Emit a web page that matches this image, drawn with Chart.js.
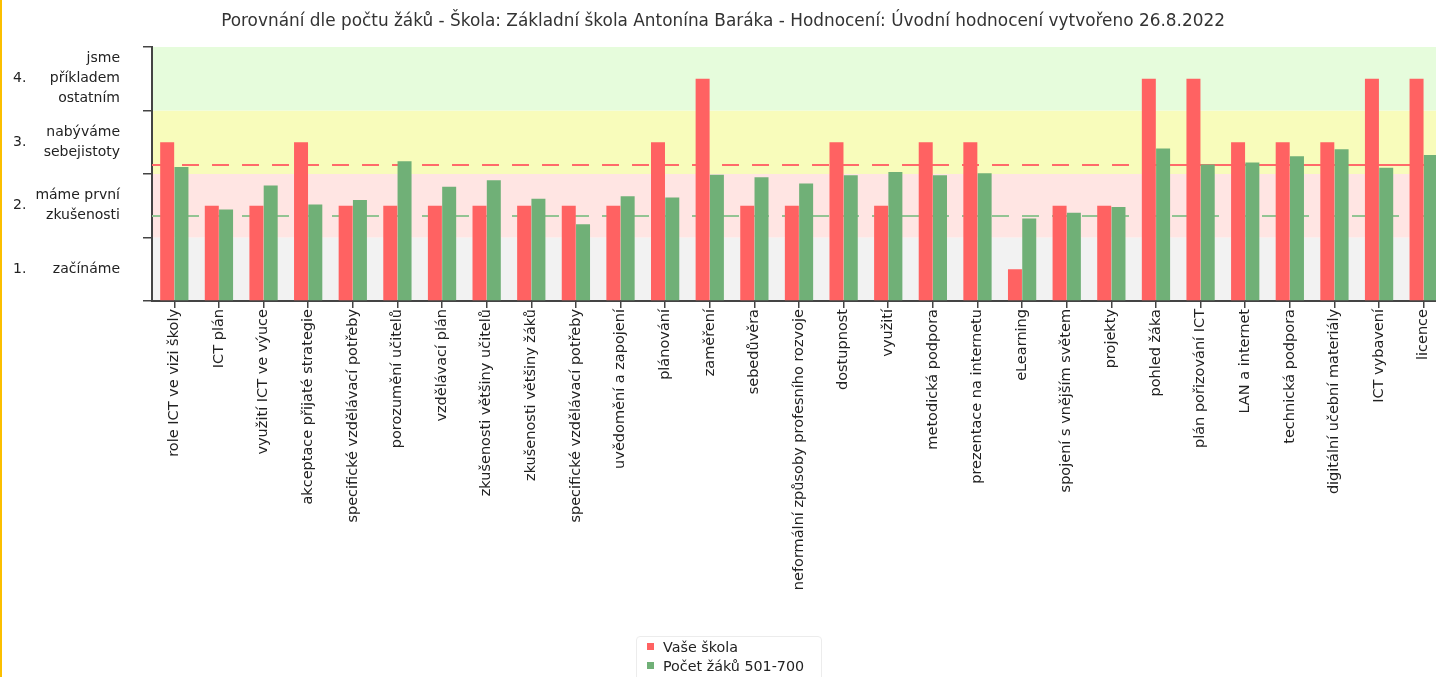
<!DOCTYPE html>
<html>
<head>
<meta charset="utf-8">
<script src="https://cdn.jsdelivr.net/npm/chart.js@4"></script>
<style>
  html, body { margin: 0; padding: 0; background: #fff; overflow: hidden; }
  #wrap { position: absolute; left: 0; top: 0; width: 1446px; height: 677px; }
  #edge { position: absolute; left: 0; top: 0; width: 2px; height: 677px; background: #fbbf00; }
  #legend { position: absolute; left: 636px; top: 636px; width: 184px; height: 56px;
            border: 1px solid #ececec; border-radius: 4px; font: 14.3px "DejaVu Sans", sans-serif; color: #222; }
  .item { position: absolute; left: 10px; height: 18px; line-height: 18px; }
  .item span { display: inline-block; width: 7px; height: 7px; margin-right: 9px; vertical-align: 2px; }
</style>
</head>
<body>
<div id="wrap"><canvas id="chart" width="1446" height="677"></canvas></div>
<div id="edge"></div>
<div id="legend">
  <div class="item" style="top:1px"><span style="background:#ff6262"></span>Vaše škola</div>
  <div class="item" style="top:20px"><span style="background:#70b077"></span>Počet žáků 501-700</div>
</div>
<script>
var categories = [
    'role ICT ve vizi školy', 'ICT plán', 'využití ICT ve výuce', 'akceptace přijaté strategie',
    'specifické vzdělávací potřeby', 'porozumění učitelů', 'vzdělávací plán', 'zkušenosti většiny učitelů',
    'zkušenosti většiny žáků', 'specifické vzdělávací potřeby', 'uvědomění a zapojení', 'plánování',
    'zaměření', 'sebedůvěra', 'neformální způsoby profesního rozvoje', 'dostupnost', 'využití',
    'metodická podpora', 'prezentace na internetu', 'eLearning', 'spojení s vnějším světem', 'projekty',
    'pohled žáka', 'plán pořizování ICT', 'LAN a internet', 'technická podpora',
    'digitální učební materiály', 'ICT vybavení', 'licence'
];
var schoolScores = [2.5, 1.5, 1.5, 2.5, 1.5, 1.5, 1.5, 1.5, 1.5, 1.5, 1.5, 2.5, 3.5, 1.5, 1.5,
    2.5, 1.5, 2.5, 2.5, 0.5, 1.5, 1.5, 3.5, 3.5, 2.5, 2.5, 2.5, 3.5, 3.5];
var groupScores = [2.11, 1.44, 1.82, 1.52, 1.59, 2.20, 1.80, 1.90, 1.61, 1.21, 1.65, 1.63, 1.99, 1.95, 1.85,
    1.98, 2.03, 1.98, 2.01, 1.30, 1.39, 1.48, 2.40, 2.15, 2.18, 2.28, 2.39, 2.10, 2.30];

// reference lines (school, group)
var refLevels = [2.14, 1.34];
var refColors = ['#ff6a6a', '#93c493'];

// background bands, bottom to top
var bandEdges = [0, 1, 2, 3, 4];
var bandColors = ['#f2f2f2', '#ffe5e3', '#f8fcbb', '#e6fcdc'];

// level labels on the left
var levelValues = [0.5, 1.5, 2.5, 3.5];
var levelNumbers = ['1.', '2.', '3.', '4.'];
var levelNames = [['začínáme'], ['máme první', 'zkušenosti'], ['nabýváme', 'sebejistoty'], ['jsme', 'příkladem', 'ostatním']];

var FONT = '"DejaVu Sans", sans-serif';

var bandsPlugin = {
    id: 'bands',
    beforeDraw: function(chart) {
        var c = chart.ctx, a = chart.chartArea, y = chart.scales.y;
        c.save();
        for (var i = 0; i < bandColors.length; i++) {
            var top = y.getPixelForValue(bandEdges[i + 1]);
            var bot = y.getPixelForValue(bandEdges[i]);
            c.fillStyle = bandColors[i];
            c.fillRect(a.left, top, a.right - a.left, bot - top);
        }
        c.restore();
    },
    beforeDatasetsDraw: function(chart) {
        var c = chart.ctx, a = chart.chartArea, y = chart.scales.y, x = chart.scales.x;
        var split = x.getPixelForValue(22);
        c.save();
        c.lineWidth = 2;
        // school line: dashed, then solid at the end
        var py = Math.round(y.getPixelForValue(refLevels[0]));
        c.strokeStyle = refColors[0];
        c.setLineDash([17, 13]);
        c.beginPath(); c.moveTo(a.left, py); c.lineTo(split, py); c.stroke();
        c.setLineDash([]);
        c.beginPath(); c.moveTo(split, py); c.lineTo(a.right, py); c.stroke();
        // group line
        py = Math.round(y.getPixelForValue(refLevels[1]));
        c.strokeStyle = refColors[1];
        c.setLineDash([17, 13]);
        c.beginPath(); c.moveTo(a.left, py); c.lineTo(a.right, py); c.stroke();
        c.restore();
    },
    afterDraw: function(chart) {
        var c = chart.ctx, y = chart.scales.y;
        c.save();
        c.fillStyle = '#222';
        c.font = '14px ' + FONT;
        c.textBaseline = 'middle';
        for (var i = 0; i < levelValues.length; i++) {
            var cy = y.getPixelForValue(levelValues[i]);
            c.textAlign = 'left';
            c.fillText(levelNumbers[i], 13, cy);
            var lines = levelNames[i];
            var lh = 20;
            var start = cy - (lines.length - 1) * lh / 2;
            c.textAlign = 'right';
            for (var j = 0; j < lines.length; j++) {
                c.fillText(lines[j], 120, start + j * lh);
            }
        }
        c.restore();
    }
};

var ctx = document.getElementById('chart').getContext('2d');
var chart = new Chart(ctx, {
    type: 'bar',
    data: {
        labels: categories,
        datasets: [{
            label: 'Vaše škola',
            data: schoolScores,
            backgroundColor: '#ff6262',
            categoryPercentage: 0.64,
            barPercentage: 0.98
        }, {
            label: 'Počet žáků 501-700',
            data: groupScores,
            backgroundColor: '#70b077',
            categoryPercentage: 0.64,
            barPercentage: 0.98
        }]
    },
    plugins: [bandsPlugin],
    options: {
        responsive: false,
        animation: false,
        layout: { padding: 0 },
        scales: {
            x: {
                offset: true,
                grid: { offset: false, drawOnChartArea: false, tickLength: 7, color: '#444', lineWidth: 1.5 },
                border: { color: '#444', width: 2 },
                ticks: {
                    autoSkip: false, minRotation: 90, maxRotation: 90, padding: 1,
                    color: '#222', font: { family: FONT, size: 14.5 }
                },
                afterFit: function(s) { s.height = 677 - 301; }
            },
            y: {
                min: 0,
                max: 4,
                ticks: { stepSize: 1, display: false },
                grid: { drawOnChartArea: false, tickLength: 9, color: '#444', lineWidth: 1.5 },
                border: { color: '#444', width: 2 },
                afterFit: function(s) { s.width = 152; }
            }
        },
        plugins: {
            title: {
                display: true,
                text: 'Porovnání dle počtu žáků - Škola: Základní škola Antonína Baráka - Hodnocení: Úvodní hodnocení vytvořeno 26.8.2022',
                color: '#333',
                font: { family: FONT, size: 16.9, weight: 'normal' },
                padding: { top: 11.5, bottom: 15.2 }
            },
            legend: { display: false },
            tooltip: { enabled: false }
        }
    }
});
</script>
</body>
</html>
